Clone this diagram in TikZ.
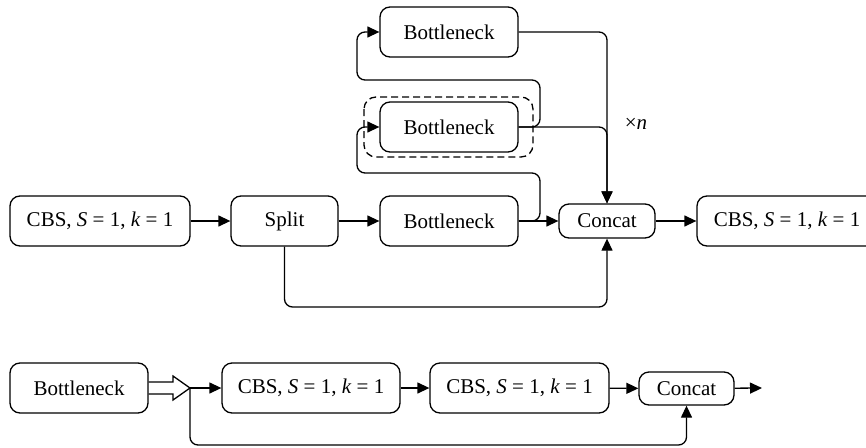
\documentclass[tikz,border=0pt]{standalone}
\usepackage{fontspec}
\setmainfont{Liberation Serif}
\usetikzlibrary{arrows.meta,calc}
\begin{document}
\begin{tikzpicture}[x=1pt,y=-1pt,
  box/.style={draw,line width=1.3pt,rounded corners=10pt,minimum height=50pt,inner sep=0pt,
    font=\fontsize{21}{25}\selectfont},
  conn/.style={line width=1.3pt,rounded corners=8pt},
  arr/.style={conn,-{Triangle[length=12pt,width=11pt]}}]
\useasboundingbox (0,0) rectangle (866,447);
% top row
\node[box,minimum width=180pt] (cbs1) at (100,221) {CBS, \textit{S} = 1, \textit{k} = 1};
\node[box,minimum width=107pt] (split) at (284.5,221) {Split};
\node[box,minimum width=138pt] (b0) at (449,221) {Bottleneck};
\node[box,minimum width=138pt] (b1) at (449,127) {Bottleneck};
\node[box,minimum width=138pt] (b2) at (449,32) {Bottleneck};
\node[box,minimum width=96pt,minimum height=34pt] (cat) at (607,221) {Concat};
\node[box,minimum width=180pt] (cbs2) at (787,221) {CBS, \textit{S} = 1, \textit{k} = 1};
\draw[line width=1.3pt,dash pattern=on 7pt off 4pt,rounded corners=12pt] (364,97) rectangle (533,157);
\node[font=\fontsize{21}{25}\selectfont] (xn) at (636,124) {×\textit{n}};
\draw[arr] (cbs1) -- (split);
\draw[arr] (split) -- (b0);
\draw[arr] (b0) -- (cat);
\draw[arr] (cat) -- (cbs2);
\draw[arr] (b0.east) -- (540,221) -- (540,173) -- (357,173) -- (357,127) -- (b1.west);
\draw[arr] (b1.east) -- (540,127) -- (540,80) -- (357,80) -- (357,32) -- (b2.west);
\draw[arr] (b1.east) -| (cat.north);
\draw[arr] (b2.east) -| (cat.north);
\draw[arr] (split.south) |- (445,307) -| (cat.south);
% bottom row
\node[box,minimum width=138pt] (bn) at (79,388) {Bottleneck};
\node[box,minimum width=178pt] (c2) at (311,388) {CBS, \textit{S} = 1, \textit{k} = 1};
\node[box,minimum width=179pt] (c3) at (519.5,388) {CBS, \textit{S} = 1, \textit{k} = 1};
\node[box,minimum width=95pt,minimum height=33pt] (cat2) at (686.5,388.5) {Concat};
\coordinate (j) at (190,388);
\coordinate (out) at (762,388);
\draw[line width=1.3pt,line join=miter] (bn.east |- 0,382) -- (173,382) -- (173,376) -- (j) -- (173,400) -- (173,394) -- (bn.east |- 0,394);
\draw[arr] (j) -- (c2);
\draw[arr] (c2) -- (c3);
\draw[arr] (c3) -- (cat2);
\draw[arr] (cat2) -- (out);
\draw[arr] (j) |- (440,445) -| (cat2.south);
\end{tikzpicture}
\end{document}
